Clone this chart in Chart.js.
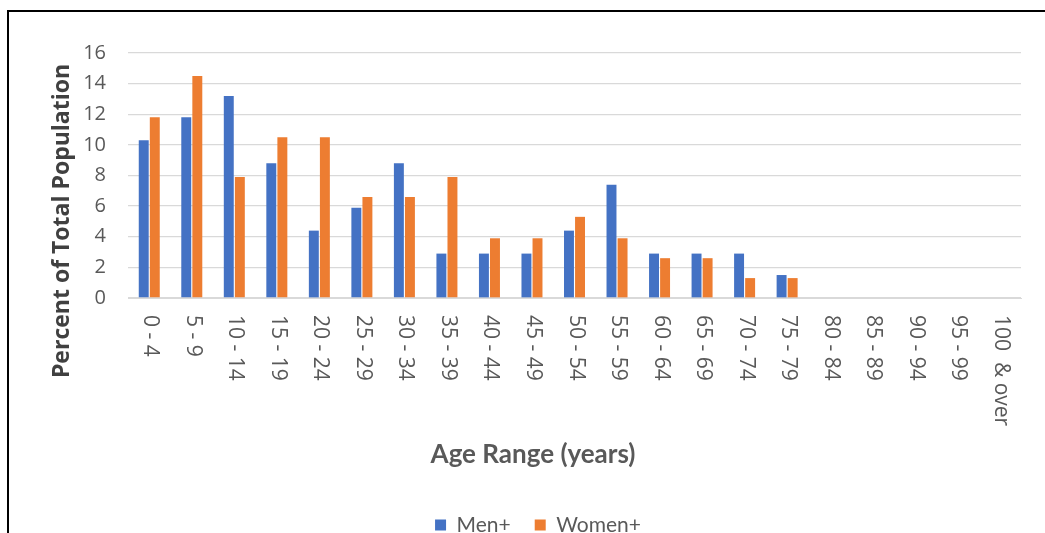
<!DOCTYPE html>
<html>
<head>
<meta charset="utf-8">
<script src="https://cdn.jsdelivr.net/npm/chart.js@4/dist/chart.umd.min.js"></script>
<style>
  html, body { margin: 0; padding: 0; background: #ffffff; }
  #wrap { width: 1045px; height: 533px; }
</style>
</head>
<body>
<div id="wrap"><canvas id="c" width="1045" height="533"></canvas></div>
<script>
const categories = ["0 - 4", "5 - 9", "10 - 14", "15 - 19", "20 - 24", "25 - 29", "30 - 34", "35 - 39", "40 - 44", "45 - 49", "50 - 54", "55 - 59", "60 - 64", "65 - 69", "70 - 74", "75 - 79", "80 - 84", "85 - 89", "90 - 94", "95 - 99", "100  & over"];
const menValues   = [10.3, 11.8, 13.2, 8.8, 4.4, 5.9, 8.8, 2.9, 2.9, 2.9, 4.4, 7.4, 2.9, 2.9, 2.9, 1.5, 0, 0, 0, 0, 0];
const womenValues = [11.8, 14.5, 7.9, 10.5, 10.5, 6.6, 6.6, 7.9, 3.9, 3.9, 5.3, 3.9, 2.6, 2.6, 1.3, 1.3, 0, 0, 0, 0, 0];
const seriesNames = ["Men+", "Women+"];
const yTitle = "Percent of Total Population";
const xTitle = "Age Range (years)";

const textColor = "#595959";

const decorPlugin = {
  id: "decor",
  beforeDraw(chart) {
    const ctx = chart.ctx;
    ctx.save();
    ctx.fillStyle = "#ffffff";
    ctx.fillRect(0, 0, chart.width, chart.height);
    ctx.restore();
  },
  afterDraw(chart) {
    const ctx = chart.ctx;
    const xs = chart.scales.x;
    ctx.save();
    // frame
    ctx.strokeStyle = "#000000";
    ctx.lineWidth = 2;
    ctx.beginPath();
    ctx.moveTo(8, 534);
    ctx.lineTo(8, 11);
    ctx.lineTo(1046, 11);
    ctx.stroke();
    // x tick labels, rotated clockwise
    ctx.fillStyle = textColor;
    ctx.font = "21px 'Open Sans'";
    ctx.textAlign = "left";
    ctx.textBaseline = "middle";
    categories.forEach((lab, i) => {
      const x = xs.getPixelForTick(i);
      ctx.save();
      ctx.translate(x + 1, chart.chartArea.bottom + 17);
      ctx.rotate(Math.PI / 2);
      ctx.fillText(lab, 0, 0);
      ctx.restore();
    });
    // y title
    ctx.save();
    ctx.font = "bold 23px 'Open Sans'";
    ctx.fillStyle = "#404040";
    ctx.textAlign = "center";
    ctx.textBaseline = "middle";
    ctx.translate(62, 221);
    ctx.rotate(-Math.PI / 2);
    ctx.fillText(yTitle, 0, 0);
    ctx.restore();
    // x title
    ctx.font = "bold 26px Lato";
    ctx.fillStyle = textColor;
    ctx.textAlign = "center";
    ctx.textBaseline = "middle";
    ctx.fillText(xTitle, 533, 455);
    ctx.restore();
  }
};

new Chart(document.getElementById("c"), {
  type: "bar",
  data: {
    labels: categories,
    datasets: [
      { label: seriesNames[0], data: menValues, backgroundColor: "#4472C4", categoryPercentage: 0.52, barPercentage: 0.9 },
      { label: seriesNames[1], data: womenValues, backgroundColor: "#ED7D31", categoryPercentage: 0.52, barPercentage: 0.9 }
    ]
  },
  options: {
    responsive: false,
    animation: false,
    layout: { padding: { left: 55, right: 24, top: 53, bottom: -12.5 } },
    plugins: {
      legend: {
        position: "bottom",
        labels: {
          boxWidth: 11, boxHeight: 11, padding: 24,
          color: textColor,
          font: { family: "Lato", size: 21 }
        }
      },
      tooltip: { enabled: false }
    },
    scales: {
      x: {
        grid: { display: false },
        border: { display: true, color: "#d9d9d9", width: 1 },
        ticks: { display: false },
        afterFit(scale) { scale.height = 192.5; }
      },
      y: {
        min: 0, max: 16,
        grid: { color: "#d9d9d9", lineWidth: 1.3, drawTicks: false },
        border: { display: false },
        ticks: { stepSize: 2, padding: 22, color: textColor, font: { family: "Open Sans", size: 20 } },
        afterFit(scale) { scale.width = 73; }
      }
    }
  },
  plugins: [decorPlugin]
});
</script>
</body>
</html>
